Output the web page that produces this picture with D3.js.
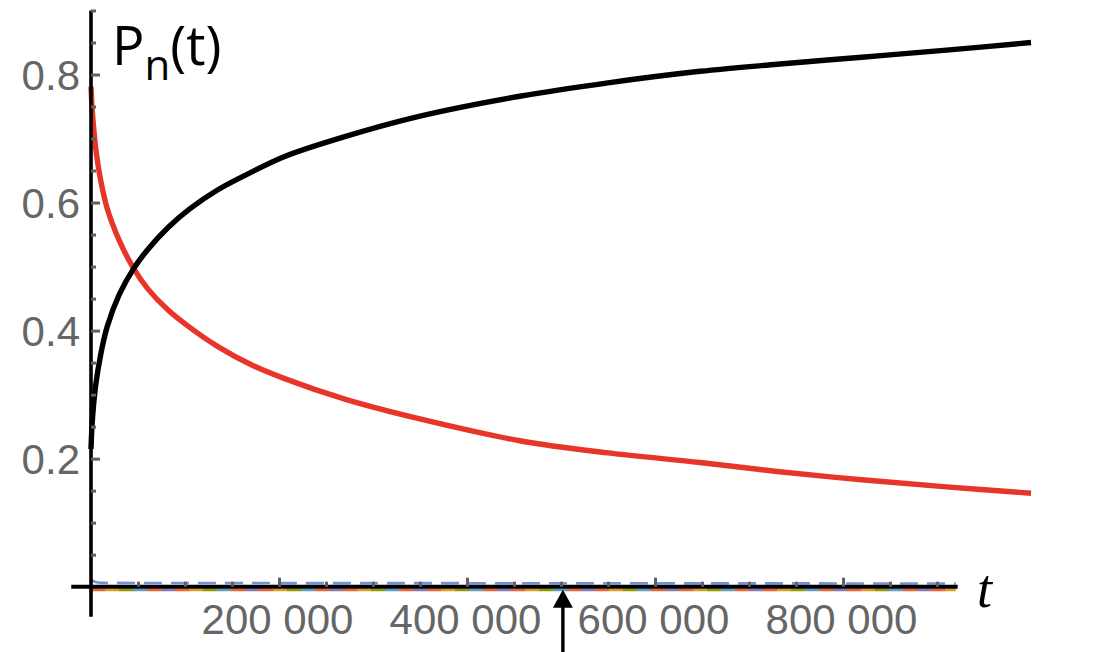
<!DOCTYPE html>
<html><head><meta charset="utf-8">
<script src="https://cdn.jsdelivr.net/npm/d3@7"></script>
<style>body{margin:0;background:#fff}svg{display:block}</style>
</head><body><svg id="c" width="1120" height="652"></svg>
<script>
// ---- data ----
const times = [0,1000,2500,5000,10000,17000,30000,45000,60000,82000,105000,135000,170000,206000,270000,350000,456000,550000,648000,730000,820000,910000,1000000];
const pBlack = [0.215,0.25,0.28,0.315,0.36,0.405,0.456,0.496,0.526,0.561,0.59,0.62,0.647,0.672,0.703,0.735,0.766,0.787,0.805,0.816,0.827,0.838,0.85];
const pRed   = [0.781,0.752,0.722,0.685,0.637,0.592,0.541,0.498,0.466,0.432,0.405,0.375,0.347,0.325,0.293,0.262,0.228,0.209,0.194,0.18,0.167,0.156,0.146];
const smallTimes = [0,2000,6000,13000,100000,400000,700000,920000];
const pBlue  = [0.012,0.009,0.007,0.006,0.0058,0.0055,0.0052,0.005];
const pOther = [-0.005,-0.005,-0.005,-0.005,-0.005,-0.005,-0.005,-0.005];
const otherColors = ["#EB6235","#E19C24","#929600","#5D9EC7","#EB6235","#8778B3"];
const xTickValues = [200000,400000,600000,800000];
const xTickLabels = ["200 000","400 000","600 000","800 000"];
const yTickValues = [0.2,0.4,0.6,0.8];
const yTickLabels = ["0.2","0.4","0.6","0.8"];
const xAxisExtent = [-21000, 922000];
const yAxisExtent = [-0.047, 0.9];
const arrowT = 502000;

const svg = d3.select("#c");
const x = d3.scaleLinear().domain([0,1000000]).range([91,1031]);
const y = d3.scaleLinear().domain([0,0.8]).range([586.7,74.5]);

const line = d3.line().x(d=>x(d[0])).y(d=>y(d[1])).curve(d3.curveCatmullRom.alpha(0.5));
const lineM = d3.line().x(d=>x(d[0])).y(d=>y(d[1])).curve(d3.curveMonotoneX);

// near-zero series
otherColors.forEach((c,i)=>{
  svg.append("path").datum(smallTimes.map((t,j)=>[t,pOther[j]]))
    .attr("d",lineM).attr("fill","none").attr("stroke",c).attr("stroke-width",2.6)
    .attr("stroke-dasharray","14,70").attr("stroke-dashoffset",-i*14);
});
svg.append("path").datum(smallTimes.map((t,j)=>[t,pBlue[j]]))
  .attr("d",lineM).attr("fill","none").attr("stroke","#5b80cf").attr("stroke-width",2.6)
  .attr("stroke-opacity",0.85).attr("stroke-dasharray","18,9");

// main curves
svg.append("path").datum(times.map((t,i)=>[t,pRed[i]]))
  .attr("d",line).attr("fill","none").attr("stroke","#E8352A").attr("stroke-width",5.4);
svg.append("path").datum(times.map((t,i)=>[t,pBlack[i]]))
  .attr("d",line).attr("fill","none").attr("stroke","#000").attr("stroke-width",5.4);

// axis lines
svg.append("line").attr("x1",x(xAxisExtent[0])).attr("x2",x(xAxisExtent[1]))
  .attr("y1",y(0)).attr("y2",y(0)).attr("stroke","#000").attr("stroke-width",4);
svg.append("line").attr("x1",x(0)).attr("x2",x(0))
  .attr("y1",y(yAxisExtent[1])).attr("y2",y(yAxisExtent[0])).attr("stroke","#000").attr("stroke-width",3.6);

// ticks via d3 axes
const tickCol = "#5f5f5f";
const xMinor = d3.range(50000, 900001, 50000).filter(v=>!xTickValues.includes(v));
const yMinor = d3.range(1,19).map(k=>k*0.05).filter(v=>!yTickValues.some(t=>Math.abs(t-v)<1e-9));

function styleTicks(g){ g.select(".domain").remove(); g.selectAll("line").attr("stroke",tickCol).attr("stroke-width",3); }

svg.append("g").attr("transform",`translate(0,${y(0)})`)
  .call(d3.axisTop(x).tickValues(xTickValues).tickSize(9).tickFormat("")).call(styleTicks);
svg.append("g").attr("transform",`translate(0,${y(0)})`)
  .call(d3.axisTop(x).tickValues(xMinor).tickSize(5).tickFormat("")).call(styleTicks);
svg.append("g").attr("transform",`translate(${x(0)},0)`)
  .call(d3.axisRight(y).tickValues(yTickValues).tickSize(9).tickFormat("")).call(styleTicks);
svg.append("g").attr("transform",`translate(${x(0)},0)`)
  .call(d3.axisRight(y).tickValues(yMinor).tickSize(5).tickFormat("")).call(styleTicks);

// tick labels
const font = "'Liberation Sans', Arial, Helvetica, sans-serif";
const gx = svg.append("g").attr("transform",`translate(-2,${y(0)})`)
  .call(d3.axisBottom(x).tickValues(xTickValues).tickSize(0).tickPadding(17)
    .tickFormat((d,i)=>xTickLabels[i]));
gx.select(".domain").remove();
gx.selectAll("text").attr("font-family",font).attr("font-size",42).attr("fill","#666");

const gy = svg.append("g").attr("transform",`translate(${x(0)},0)`)
  .call(d3.axisLeft(y).tickValues(yTickValues).tickSize(0).tickPadding(11)
    .tickFormat((d,i)=>yTickLabels[i]));
gy.select(".domain").remove();
gy.selectAll("text").attr("font-family",font).attr("font-size",42).attr("fill","#666").attr("dy","0.36em");

// axis labels
const pl = svg.append("text").attr("x",112).attr("y",65)
  .attr("font-family","'Open Sans', sans-serif").attr("font-size",54).attr("fill","#000");
pl.append("tspan").text("P");
pl.append("tspan").attr("font-size",42).attr("dy",15).text("n");
pl.append("tspan").attr("dy",-15).text("(t)");

svg.append("text").attr("x",977).attr("y",607)
  .attr("font-family","'Liberation Serif', 'Times New Roman', serif").attr("font-style","italic")
  .attr("font-size",54).attr("fill","#000").text("t");

// arrow
const ax = x(arrowT);
svg.append("line").attr("x1",ax).attr("x2",ax).attr("y1",y(0)+18).attr("y2",660)
  .attr("stroke","#000").attr("stroke-width",3.4);
svg.append("path")
  .attr("d",`M${ax},${y(0)+3}L${ax-10},${y(0)+21}L${ax+10},${y(0)+21}Z`).attr("fill","#000");
</script></body></html>
